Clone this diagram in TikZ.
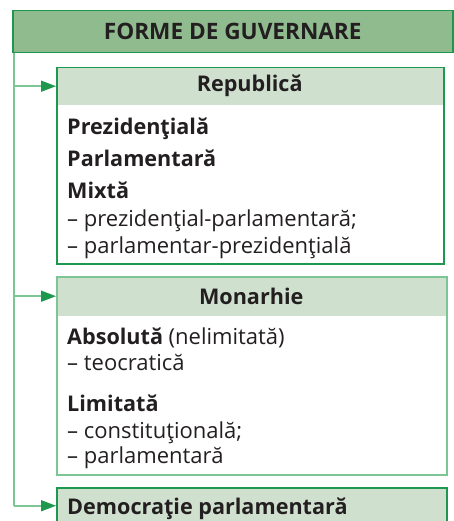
\documentclass[tikz,border=0pt]{standalone}
\usepackage{fontspec}
\setmainfont{Open Sans}
\usetikzlibrary{arrows.meta}
\definecolor{govDark}{RGB}{30,152,78}
\definecolor{govLight}{RGB}{124,198,150}
\definecolor{govTitle}{RGB}{143,187,143}
\definecolor{govSoft}{RGB}{208,224,207}
\definecolor{govText}{RGB}{35,31,32}
\newcommand{\regsize}{\fontsize{22}{26}\selectfont}
\newcommand{\boldsize}{\fontsize{21.6}{26}\selectfont\bfseries}

\begin{document}
\begin{tikzpicture}[x=1pt, y=-1pt,
    frame/.style={draw, line width=1.5pt, anchor=north west, inner sep=0pt},
    head/.style={fill=govSoft, anchor=north west, inner sep=0pt, text=govText,
      font=\boldsize},
    item/.style={anchor=base west, inner sep=0pt, text=govText, font=\regsize},
    bolditem/.style={item, font=\boldsize},
    link/.style={govLight, line width=1.5pt,
      -{Triangle[length=15pt, width=11pt, fill=govDark, color=govDark]}}]
  \useasboundingbox (0,0) rectangle (454,521);
  \clip (0,0) rectangle (454,521);
  % Title
  \node[frame, govDark, fill=govTitle, text=govText, minimum width=440pt,
    minimum height=42pt, font=\fontsize{22.6}{26}\selectfont\bfseries]
    (title) at (12,10) {FORME DE GUVERNARE};
  % Republica
  \node[head, minimum width=387pt, minimum height=38pt] (rephead) at (56,67) {Republică};
  \node[frame, govDark, minimum width=387pt, minimum height=196pt] (repbox) at (56,67) {};
  \node[bolditem] (prez) at (67,135) {Prezidenţială};
  \node[bolditem] (parl) at (67,167) {Parlamentară};
  \node[bolditem] (mixt) at (67,199) {Mixtă};
  \node[item] (mixta) at (67,226) {– prezidenţial-parlamentară;};
  \node[item] (mixtb) at (67,253) {– parlamentar-prezidenţială};
  % Monarhie
  \node[head, minimum width=390pt, minimum height=40pt] (monhead) at (56,276) {Monarhie};
  \node[frame, govLight, minimum width=390pt, minimum height=198pt] (monbox) at (56,276) {};
  \node[item] (abs) at (67,344) {\boldsize Absolută \regsize\mdseries(nelimitată)};
  \node[item] (teo) at (67,370) {– teocratică};
  \node[bolditem] (lim) at (67,411) {Limitată};
  \node[item] (cons) at (67,438) {– constituţională;};
  \node[item] (parlm) at (67,463) {– parlamentară};
  % Democratie parlamentara
  \node[frame, govDark, fill=govSoft, minimum width=390pt, minimum height=36pt] (demhead) at (56,487) {};
  \node[bolditem] (dem) at (67,514) {Democraţie parlamentară};
  % Trunk and arrows
  \coordinate (trunk) at (14,0);
  \draw[govLight, line width=1.5pt] (trunk |- title.south) -- (trunk |- demhead.west);
  \draw[link] (trunk |- rephead.west) -- (rephead.west);
  \draw[link] (trunk |- monhead.west) -- (monhead.west);
  \draw[link] (trunk |- demhead.west) -- (demhead.west);
\end{tikzpicture}
\end{document}
